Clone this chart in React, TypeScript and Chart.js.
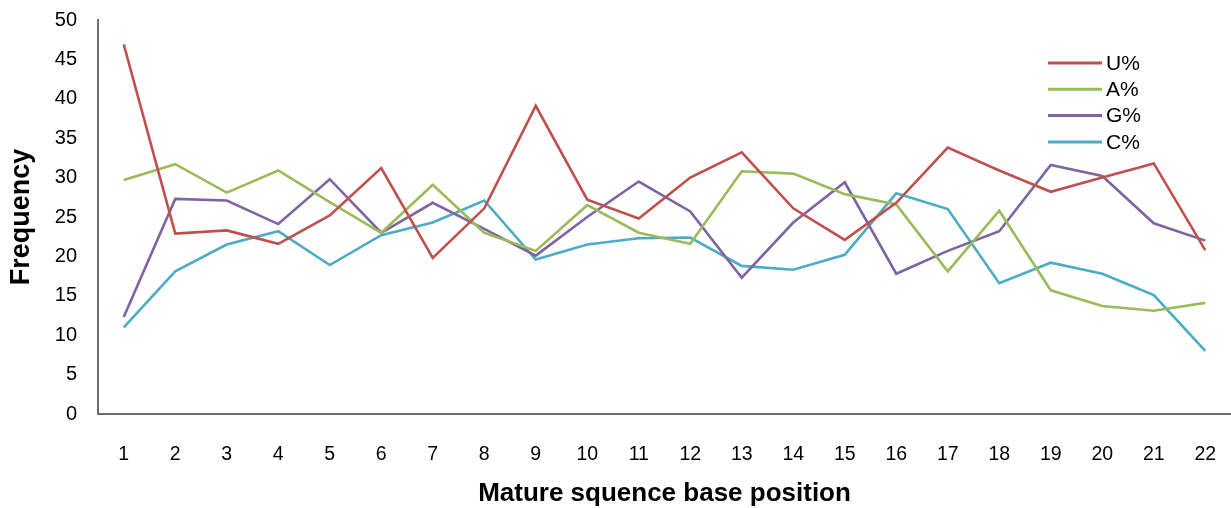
import React, { useEffect, useRef } from "react";
import { Chart, registerables } from "chart.js";

Chart.register(...registerables);

const positions = ["1","2","3","4","5","6","7","8","9","10","11","12","13","14","15","16","17","18","19","20","21","22"];
const uPct = [46.9, 22.9, 23.3, 21.6, 25.2, 31.2, 19.8, 26.1, 39.1, 27.2, 24.8, 30.0, 33.2, 26.1, 22.1, 26.8, 33.8, 30.9, 28.2, 30.0, 31.8, 20.8];
const aPct = [29.7, 31.7, 28.1, 30.9, 26.9, 23.0, 29.1, 23.0, 20.7, 26.5, 23.0, 21.6, 30.8, 30.5, 27.9, 26.6, 18.1, 25.8, 15.7, 13.7, 13.1, 14.1];
const gPct = [12.3, 27.3, 27.1, 24.1, 29.8, 23.0, 26.8, 23.5, 20.1, 25.0, 29.5, 25.7, 17.3, 24.3, 29.4, 17.8, 20.7, 23.2, 31.6, 30.2, 24.2, 22.0];
const cPct = [11.0, 18.1, 21.5, 23.2, 18.9, 22.7, 24.3, 27.1, 19.6, 21.5, 22.3, 22.4, 18.8, 18.3, 20.2, 28.0, 26.0, 16.6, 19.2, 17.8, 15.1, 8.0];
const seriesNames = ["U%", "A%", "G%", "C%"];
const seriesColors = ["#C0504D", "#9BBB59", "#8064A2", "#4BACC6"];

const FONT = "'Liberation Sans', Arial, Helvetica, sans-serif";

const legendPlugin = {
  id: "customLegend",
  afterDraw(chart: any) {
    const ctx = chart.ctx;
    ctx.save();
    const x0 = 1048;
    const x1 = 1102;
    const y0 = 63;
    const dy = 26.3;
    chart.data.datasets.forEach((ds: any, i: number) => {
      const y = y0 + i * dy;
      ctx.strokeStyle = ds.borderColor;
      ctx.lineWidth = 3;
      ctx.beginPath();
      ctx.moveTo(x0, y);
      ctx.lineTo(x1, y);
      ctx.stroke();
      ctx.fillStyle = "#000";
      ctx.font = `21px ${FONT}`;
      ctx.textBaseline = "middle";
      ctx.textAlign = "left";
      ctx.fillText(ds.label, 1106, y + 1);
    });
    ctx.restore();
  },
};

export default function App() {
  const ref = useRef<HTMLCanvasElement | null>(null);
  useEffect(() => {
    document.body.style.margin = "0";
    const canvas = ref.current;
    if (!canvas) return;
    const values = [uPct, aPct, gPct, cPct];
    const chart = new Chart(canvas, {
      type: "line",
      data: {
        labels: positions,
        datasets: values.map((v, i) => ({
          label: seriesNames[i],
          data: v,
          borderColor: seriesColors[i],
          backgroundColor: seriesColors[i],
          borderWidth: 2.6,
          pointRadius: 0,
          tension: 0,
          fill: false,
        })),
      },
      options: {
        animation: false,
        responsive: false,
        devicePixelRatio: 1,
        layout: { padding: { top: 20, left: 0, right: 0, bottom: 0 } },
        plugins: {
          legend: { display: false },
          tooltip: { enabled: false },
        },
        scales: {
          x: {
            type: "category",
            offset: true,
            grid: { display: false, drawTicks: false },
            border: { display: true, color: "#6e6e6e", width: 2 },
            ticks: {
              color: "#000",
              font: { family: FONT, size: 19.5 },
              padding: 29,
              maxRotation: 0,
              autoSkip: false,
            },
            title: {
              display: true,
              text: "Mature squence base position",
              color: "#000",
              font: { family: FONT, size: 26, weight: "bold", lineHeight: 1 },
              padding: { top: 0, bottom: 1 },
            },
            afterFit(scale: any) {
              scale.height = 94;
              scale.paddingLeft = 0;
              scale.paddingRight = 0;
            },
          },
          y: {
            min: 0,
            max: 50,
            grid: { display: false, drawTicks: false },
            border: { display: true, color: "#6e6e6e", width: 2 },
            ticks: {
              stepSize: 5,
              color: "#000",
              font: { family: FONT, size: 20 },
              padding: 21,
            },
            title: {
              display: true,
              text: "Frequency",
              color: "#000",
              font: { family: FONT, size: 27, weight: "bold", lineHeight: 1 },
              padding: { top: 8, bottom: 0 },
            },
            afterFit(scale: any) {
              scale.width = 98;
              scale.paddingTop = 0;
              scale.paddingBottom = 0;
            },
          },
        },
      },
      plugins: [legendPlugin],
    });
    return () => chart.destroy();
  }, []);
  return (
    <div style={{ width: 1231, height: 508, position: "relative" }}>
      <canvas ref={ref} width={1231} height={508} style={{ display: "block" }} />
    </div>
  );
}
